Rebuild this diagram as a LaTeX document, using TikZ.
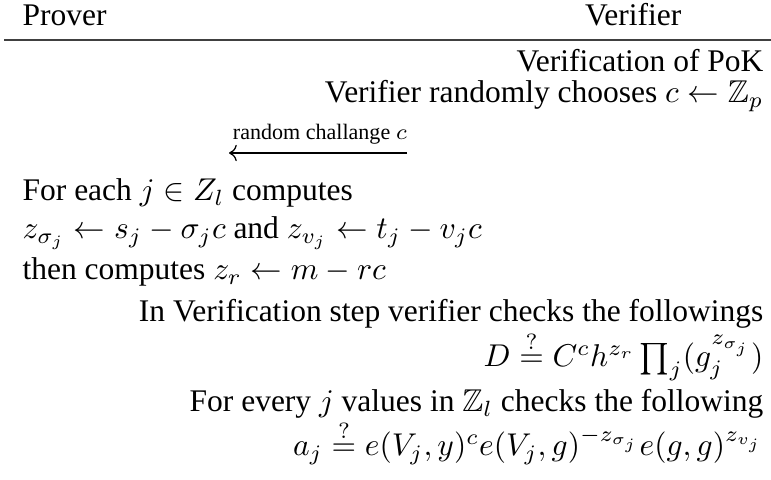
\documentclass[tikz,border=0pt]{standalone}
\usepackage{amsmath,amssymb}
\usepackage{fontspec}
\setmainfont{Liberation Serif}
\usetikzlibrary{arrows.meta}
\begin{document}
\begin{tikzpicture}[x=0.3175pt,y=-0.3175pt,
  lt/.style={anchor=base west,inner sep=0pt},
  rt/.style={anchor=base east,inner sep=0pt},
  rulestyle/.style={line width=0.5pt,draw=black!75},
  msg/.style={-{Computer Modern Rightarrow},line width=0.4pt},
  msglabel/.style={anchor=base,inner sep=0pt,font=\scriptsize}]
\useasboundingbox (0,0) rectangle (771,480);
\node[lt] (prover) at (22,26) {Prover};
\node[rt] (verifier) at (682,26) {Verifier};
\coordinate (rl) at (4,40);
\coordinate (rr) at (771,40);
\draw[rulestyle] (rl) -- (rr);
\node[rt] (pok) at (764,72) {Verification of PoK};
\node[rt] (choose) at (764,103) {Verifier randomly chooses $c \leftarrow \mathbb{Z}_p$};
\node[msglabel] (lab) at (320,140) {random challange $c$};
\coordinate (as) at (407,153);
\coordinate (ae) at (229,153);
\draw[msg] (as) -- (ae);
\node[lt] (each) at (22,201) {For each $j \in Z_l$ computes};
\node[lt] (zs) at (22,239) {$z_{\sigma_j} \leftarrow s_j - \sigma_j c$ and $z_{v_j} \leftarrow t_j - v_j c$};
\node[lt] (zr) at (22,280) {then computes $z_r \leftarrow m - rc$};
\node[rt] (step) at (764,322) {In Verification step verifier checks the followings};
\node[rt] (eqD) at (764,367) {$D \stackrel{?}{=} C^c h^{z_r} \prod_j (g_j^{z_{\sigma_j}})$};
\node[rt] (every) at (764,412) {For every $j$ values in $\mathbb{Z}_l$ checks the following};
\node[rt] (eqA) at (764,456) {$a_j \stackrel{?}{=} e(V_j,y)^c e(V_j,g)^{-z_{\sigma_j}} e(g,g)^{z_{v_j}}$};
\end{tikzpicture}
\end{document}
